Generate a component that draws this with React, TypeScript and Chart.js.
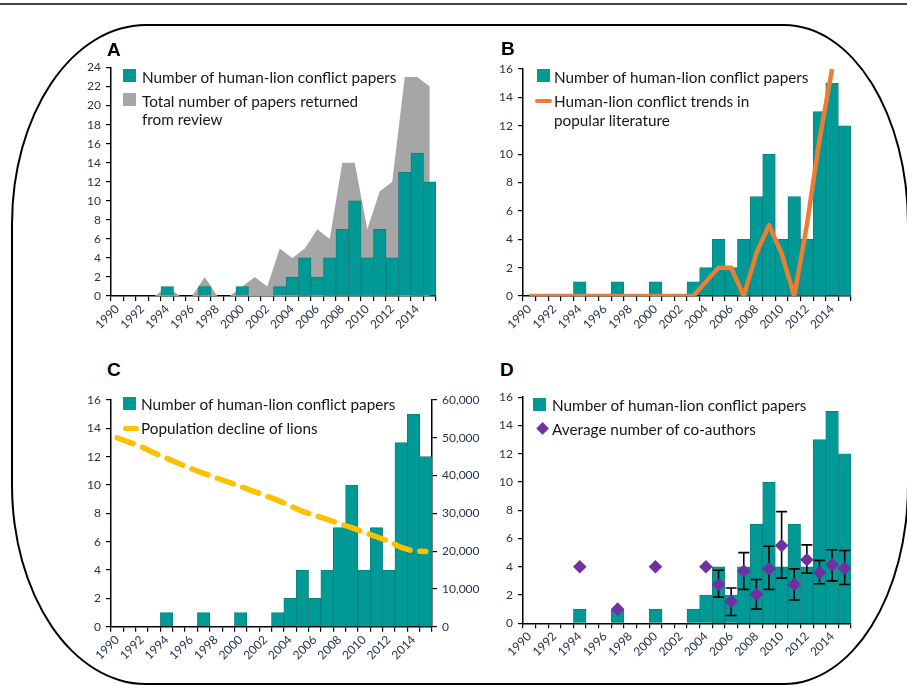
import React, { useEffect, useRef } from 'react';
import { Chart, registerables } from 'chart.js';
Chart.register(...registerables);

// ---------------- DATA ----------------
const years = ['1990','1991','1992','1993','1994','1995','1996','1997','1998','1999','2000','2001','2002','2003','2004','2005','2006','2007','2008','2009','2010','2011','2012','2013','2014','2015'];
const conflictPapers = [0,0,0,0,1,0,0,1,0,0,1,0,0,1,2,4,2,4,7,10,4,7,4,13,15,12];
const totalPapers = [0,0,0,0,1,0,0,2,0,0,1,2,1,5,4,5,7,6,14,14,7,11,12,23,23,22];
const popularTrend = [0,0,0,0,0,0,0,0,0,0,0,0,0,0,1,2,2,0,3,5,3,0,5,11,16,null];
const lionPopulation = [50000,48800,47600,46000,44600,43200,41800,40600,39400,38300,37100,35900,34700,33500,32000,30500,29500,28400,27300,26200,25000,23800,22600,21000,20000,19900];
const coAuthors = [null,null,null,null,4,null,null,1,null,null,4,null,null,null,4,2.75,1.55,3.7,2.05,3.85,5.5,2.75,4.5,3.6,4.15,3.9];
const coAuthorsHigh = [null,null,null,null,null,null,null,null,null,null,null,null,null,null,null,3.75,2.5,5.0,3.1,5.45,7.9,3.85,5.55,4.45,5.2,5.15];
const coAuthorsLow = [null,null,null,null,null,null,null,null,null,null,null,null,null,null,null,1.85,0.55,2.4,1.0,2.4,3.2,1.65,3.55,2.8,3.0,2.75];

const LBL_CONFLICT = 'Number of human-lion conflict papers';
const LBL_TOTAL = ['Total number of papers returned', 'from review'];
const LBL_TREND = ['Human-lion conflict trends in', 'popular literature'];
const LBL_POP = 'Population decline of lions';
const LBL_COAUTH = 'Average number of co-authors';

// ---------------- STYLE ----------------
const TEAL = '#009995';
const TEAL_EDGE = '#0b7d7a';
const GRAY = '#a6a6a6';
const ORANGE = '#ed7d31';
const GOLD = '#ffc000';
const PURPLE = '#7030a0';
const TICK = '#27324a';
const FONT = 'Lato, "Liberation Sans", sans-serif';
const TICK_SIZE = 12;

type Panel = { cl: number; ct: number; cw: number; ch: number; l: number; t: number; r: number; b: number; rightAxis?: number };

function xScale(xH: number) {
  return {
    type: 'category',
    offset: true,
    grid: { offset: true, drawOnChartArea: false, drawTicks: true, tickLength: 5, color: '#000', lineWidth: 1.2 },
    border: { color: '#000', width: 1.5 },
    ticks: {
      autoSkip: false, maxRotation: 45, minRotation: 45, padding: 1, color: TICK,
      font: { family: FONT, size: TICK_SIZE },
      callback: (_v: any, i: number) => (i % 2 === 0 ? years[i] : ''),
    },
    afterFit: (s: any) => { s.height = xH; },
  };
}

function yScale(max: number, yW: number, position = 'left', fmt?: (v: number) => string, step = 2) {
  return {
    type: 'linear',
    position,
    min: 0,
    max,
    grid: { drawOnChartArea: false, drawTicks: true, tickLength: 5, color: '#000', lineWidth: 1.2 },
    border: { color: '#000', width: 1.5 },
    ticks: {
      stepSize: step, padding: 5, color: TICK, font: { family: FONT, size: TICK_SIZE },
      callback: fmt ? (v: number) => fmt(v) : (v: number) => String(v),
    },
    afterFit: (s: any) => { s.width = yW; },
  };
}

function layoutFor(p: Panel) {
  return {
    padding: {
      top: p.t - p.ct,
      right: p.rightAxis ? 0 : p.cl + p.cw - p.r,
      left: 0,
      bottom: 0,
    },
  };
}

const barDataset = (order: number) => ({
  type: 'bar',
  label: LBL_CONFLICT,
  data: conflictPapers,
  backgroundColor: TEAL,
  borderColor: TEAL_EDGE,
  borderWidth: 0.8,
  barPercentage: 1,
  categoryPercentage: 1,
  order,
});

const errorBarPlugin = {
  id: 'errorBars',
  beforeDatasetDraw(chart: any, args: any) {
    if (args.index !== 1) return;
    const meta = chart.getDatasetMeta(1);
    const ys = chart.scales.y;
    const ctx = chart.ctx;
    ctx.save();
    ctx.strokeStyle = '#000';
    ctx.lineWidth = 1.6;
    coAuthorsHigh.forEach((hi, i) => {
      const lo = coAuthorsLow[i];
      if (hi == null || lo == null) return;
      const x = meta.data[i].x;
      const yh = ys.getPixelForValue(hi);
      const yl = ys.getPixelForValue(lo);
      ctx.beginPath();
      ctx.moveTo(x, yh); ctx.lineTo(x, yl);
      ctx.moveTo(x - 5.5, yh); ctx.lineTo(x + 5.5, yh);
      ctx.moveTo(x - 5.5, yl); ctx.lineTo(x + 5.5, yl);
      ctx.stroke();
    });
    ctx.restore();
  },
};

function useChart(ref: React.RefObject<HTMLCanvasElement | null>, make: () => any) {
  useEffect(() => {
    if (!ref.current) return;
    const c = new Chart(ref.current, make());
    return () => c.destroy();
  }, []);
}

const common = (p: Panel) => ({
  responsive: false,
  animation: false,
  layout: layoutFor(p),
  plugins: { legend: { display: false }, tooltip: { enabled: false } },
});

const PA: Panel = { cl: 60, ct: 55, cw: 390, ch: 295, l: 111, t: 67.5, r: 436, b: 296 };
const PB: Panel = { cl: 480, ct: 55, cw: 400, ch: 295, l: 523, t: 69, r: 851, b: 296 };
const PC: Panel = { cl: 60, ct: 385, cw: 430, ch: 300, l: 111, t: 400, r: 432, b: 626.7, rightAxis: 58 };
const PD: Panel = { cl: 480, ct: 385, cw: 400, ch: 300, l: 523, t: 395.7, r: 851, b: 623.3 };

function Canvas({ p, cref }: { p: Panel; cref: any }) {
  return (
    <canvas ref={cref} width={p.cw} height={p.ch}
      style={{ position: 'absolute', left: p.cl, top: p.ct, width: p.cw, height: p.ch }} />
  );
}

function LegendText({ x, cy, text }: { x: number; cy: number; text: string }) {
  return (
    <div style={{ position: 'absolute', left: x, top: cy - 10, height: 20, lineHeight: '20px', fontFamily: FONT, fontSize: 15.3, color: '#161616', whiteSpace: 'nowrap' }}>{text}</div>
  );
}
function Square({ x, y, color }: { x: number; y: number; color: string }) {
  return <div style={{ position: 'absolute', left: x, top: y, width: 13, height: 13, background: color }} />;
}
function Letter({ x, y, t }: { x: number; y: number; t: string }) {
  return (
    <div style={{ position: 'absolute', left: x, top: y, fontFamily: '"Liberation Sans", Arial, sans-serif', fontWeight: 700, fontSize: 19, lineHeight: '19px', color: '#000' }}>{t}</div>
  );
}

export default function App() {
  const ra = useRef<HTMLCanvasElement>(null);
  const rb = useRef<HTMLCanvasElement>(null);
  const rc = useRef<HTMLCanvasElement>(null);
  const rd = useRef<HTMLCanvasElement>(null);

  useChart(ra, () => ({
    type: 'bar',
    data: {
      labels: years,
      datasets: [
        barDataset(0),
        { type: 'line', label: LBL_TOTAL.join(' '), data: totalPapers, borderWidth: 0, borderColor: GRAY, backgroundColor: GRAY, fill: 'origin', pointRadius: 0, tension: 0, order: 1 },
      ],
    },
    options: {
      ...common(PA),
      scales: { x: xScale(PA.ct + PA.ch - PA.b), y: yScale(24, PA.l - PA.cl) },
    },
  }));

  useChart(rb, () => ({
    type: 'bar',
    data: {
      labels: years,
      datasets: [
        barDataset(1),
        { type: 'line', label: LBL_TREND.join(' '), data: popularTrend, borderWidth: 4.5, borderColor: ORANGE, backgroundColor: ORANGE, fill: false, pointRadius: 0, tension: 0, borderJoinStyle: 'round', borderCapStyle: 'butt', order: 0 },
      ],
    },
    options: {
      ...common(PB),
      scales: { x: xScale(PB.ct + PB.ch - PB.b), y: yScale(16, PB.l - PB.cl) },
    },
  }));

  useChart(rc, () => ({
    type: 'bar',
    data: {
      labels: years,
      datasets: [
        barDataset(1),
        { type: 'line', label: LBL_POP, data: lionPopulation, yAxisID: 'y1', borderWidth: 5.5, borderColor: GOLD, backgroundColor: GOLD, fill: false, pointRadius: 0, tension: 0, borderDash: [17, 10], borderCapStyle: 'round', order: 0 },
      ],
    },
    options: {
      ...common(PC),
      scales: {
        x: xScale(PC.ct + PC.ch - PC.b),
        y: yScale(16, PC.l - PC.cl),
        y1: yScale(60000, PC.rightAxis as number, 'right', (v) => v.toLocaleString('en-US'), 10000),
      },
    },
  }));

  useChart(rd, () => ({
    type: 'bar',
    data: {
      labels: years,
      datasets: [
        barDataset(2),
        { type: 'line', label: LBL_COAUTH, data: coAuthors, showLine: false, pointStyle: 'rectRot', pointRadius: 6.8, backgroundColor: PURPLE, borderColor: PURPLE, borderWidth: 0, order: 1 },
      ],
    },
    options: {
      ...common(PD),
      scales: { x: xScale(PD.ct + PD.ch - PD.b), y: yScale(16, PD.l - PD.cl) },
    },
    plugins: [errorBarPlugin],
  }));

  return (
    <div style={{ position: 'fixed', left: 0, top: 0, width: 907, height: 685, overflow: 'hidden', background: '#fff' }}>
      <div style={{ position: 'absolute', left: 0, top: 3, width: 907, height: 1.5, background: '#444' }} />
      <div style={{
        position: 'absolute', left: 11, top: 24, width: 898, height: 661, boxSizing: 'border-box',
        border: '2.2px solid #000',
        borderTopLeftRadius: '135px 200px', borderBottomLeftRadius: '135px 200px',
        borderTopRightRadius: '125px 200px', borderBottomRightRadius: '125px 200px',
      }} />
      <Canvas p={PA} cref={ra} />
      <Canvas p={PB} cref={rb} />
      <Canvas p={PC} cref={rc} />
      <Canvas p={PD} cref={rd} />

      <Letter x={107} y={40} t="A" />
      <Letter x={501} y={39} t="B" />
      <Letter x={107} y={360} t="C" />
      <Letter x={500} y={360} t="D" />

      {/* Legend A */}
      <Square x={123} y={69} color={TEAL} />
      <LegendText x={142} cy={76.5} text={LBL_CONFLICT} />
      <Square x={123} y={93} color={GRAY} />
      <LegendText x={142} cy={100.7} text={LBL_TOTAL[0]} />
      <LegendText x={142} cy={119.3} text={LBL_TOTAL[1]} />

      {/* Legend B */}
      <Square x={537} y={69} color={TEAL} />
      <LegendText x={554} cy={76.7} text={LBL_CONFLICT} />
      <div style={{ position: 'absolute', left: 535, top: 98.5, width: 17, height: 4.5, borderRadius: 2.5, background: ORANGE }} />
      <LegendText x={554} cy={100.7} text={LBL_TREND[0]} />
      <LegendText x={554} cy={120} text={LBL_TREND[1]} />

      {/* Legend C */}
      <Square x={123} y={397} color={TEAL} />
      <LegendText x={141} cy={404} text={LBL_CONFLICT} />
      <div style={{ position: 'absolute', left: 123, top: 425.5, width: 16, height: 5, borderRadius: 2.5, background: GOLD }} />
      <LegendText x={141} cy={428} text={LBL_POP} />

      {/* Legend D */}
      <Square x={533} y={398} color={TEAL} />
      <LegendText x={552} cy={405} text={LBL_CONFLICT} />
      <div style={{ position: 'absolute', left: 538.4, top: 424.4, width: 9.2, height: 9.2, background: PURPLE, transform: 'rotate(45deg)' }} />
      <LegendText x={552} cy={429} text={LBL_COAUTH} />
    </div>
  );
}
